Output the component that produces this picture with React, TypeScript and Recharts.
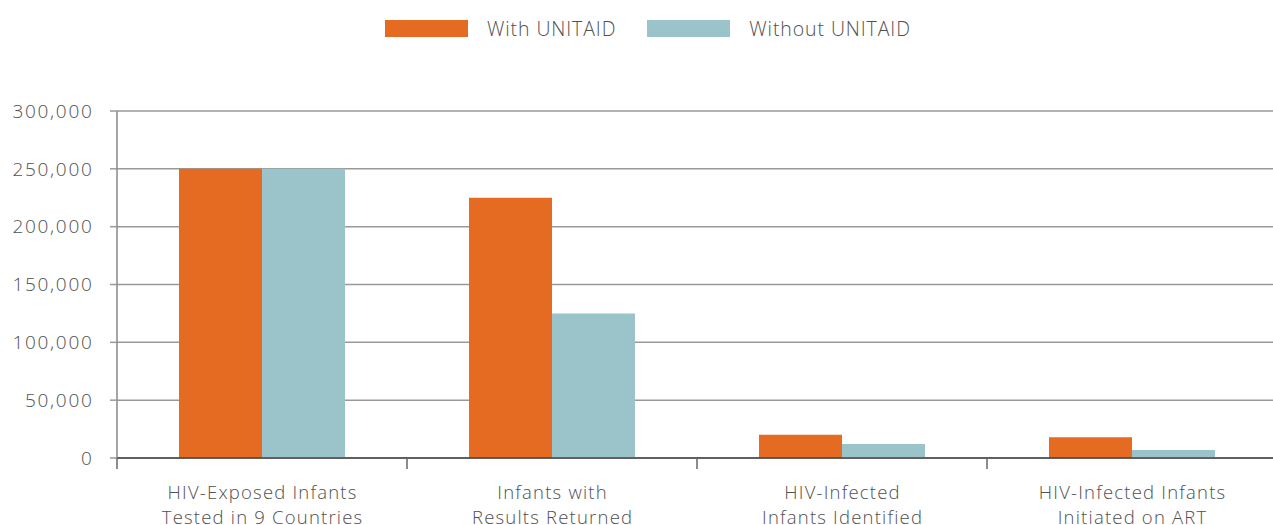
import React from "react";
import { BarChart, Bar, XAxis, YAxis, CartesianGrid, Legend } from "recharts";

const categories = [
  ["HIV-Exposed Infants", "Tested in 9 Countries"],
  ["Infants with", "Results Returned"],
  ["HIV-Infected", "Infants Identified"],
  ["HIV-Infected Infants", "Initiated on ART"],
];
const withUnitaid = [250000, 225000, 20000, 18000];
const withoutUnitaid = [250000, 125000, 12000, 7000];
const yTicks = [0, 50000, 100000, 150000, 200000, 250000, 300000];
const seriesNames = ["With UNITAID", "Without UNITAID"];
const colors = ["#E56A22", "#9AC4CA"];

const data = categories.map((c, i) => ({
  name: c.join(" "),
  lines: c,
  with: withUnitaid[i],
  without: withoutUnitaid[i],
}));

const W = 1273;
const H = 525;
const LEFT = 117;
const RIGHT_MARGIN = -4;
const BAND = (W - LEFT - RIGHT_MARGIN) / categories.length;
const FONT = "'Open Sans', Lato, sans-serif";
const TEXT = "#505050";
const WEIGHT = 300;

const XTick = (props: any) => {
  const { x, y, payload, index } = props;
  const lines: string[] = data[index] ? data[index].lines : [payload.value];
  const half = BAND / 2;
  return (
    <g>
      <line x1={x - half} x2={x - half} y1={y} y2={y + 11} stroke="#666" strokeWidth={1.5} />
      {index === categories.length - 1 && (
        <line x1={x + half} x2={x + half} y1={y} y2={y + 11} stroke="#666" strokeWidth={1.5} />
      )}
      <text x={x + 0.6} y={y + 41} textAnchor="middle" fill={TEXT} fontSize={18.5} fontWeight={WEIGHT} fontFamily={FONT} letterSpacing={1.2}>
        {lines[0]}
      </text>
      <text x={x + 0.6} y={y + 66} textAnchor="middle" fill={TEXT} fontSize={18.5} fontWeight={WEIGHT} fontFamily={FONT} letterSpacing={1.2}>
        {lines[1]}
      </text>
    </g>
  );
};

const LegendContent = () => (
  <div style={{ height: 111, width: W, position: "relative", fontFamily: FONT }}>
    <div
      style={{
        position: "absolute",
        left: 385,
        top: 15,
        display: "flex",
        alignItems: "center",
        fontSize: 19.5,
        fontWeight: WEIGHT,
        letterSpacing: 0.9,
        color: TEXT,
        whiteSpace: "nowrap",
      }}
    >
      {seriesNames.map((n, i) => (
        <React.Fragment key={n}>
          <span
            style={{
              display: "inline-block",
              width: 83,
              height: 17,
              background: colors[i],
              marginLeft: i === 0 ? 0 : 31,
              marginRight: 19,
            }}
          />
          <span>{n}</span>
        </React.Fragment>
      ))}
    </div>
  </div>
);

export default function App() {
  return (
    <div style={{ position: "absolute", left: 0, top: 0, width: W, height: H, background: "#fff", overflow: "hidden" }}>
      <BarChart
        width={W}
        height={H}
        data={data}
        margin={{ top: 0, right: RIGHT_MARGIN, bottom: 0, left: 0 }}
        barGap={0}
        barSize={83}
      >
        <Legend verticalAlign="top" align="left" content={<LegendContent />} />
        <CartesianGrid vertical={false} stroke="#999" strokeWidth={1.5} />
        <YAxis
          width={LEFT}
          domain={[0, 300000]}
          ticks={yTicks}
          tickSize={7}
          tickMargin={16.5}
          tickLine={{ stroke: "#999", strokeWidth: 1.5 }}
          axisLine={{ stroke: "#888", strokeWidth: 1.5 }}
          tick={{ fill: TEXT, fontSize: 19, fontWeight: WEIGHT, fontFamily: FONT, letterSpacing: 1.7 }}
          tickFormatter={(v: number) => v.toLocaleString("en-US")}
          interval={0}
        />
        <XAxis
          dataKey="name"
          height={67}
          tickSize={0}
          tickMargin={0}
          tickLine={false}
          axisLine={{ stroke: "#444", strokeWidth: 1.5 }}
          tick={<XTick />}
          interval={0}
        />
        <Bar dataKey="with" name={seriesNames[0]} fill={colors[0]} isAnimationActive={false} />
        <Bar dataKey="without" name={seriesNames[1]} fill={colors[1]} isAnimationActive={false} />
      </BarChart>
    </div>
  );
}
